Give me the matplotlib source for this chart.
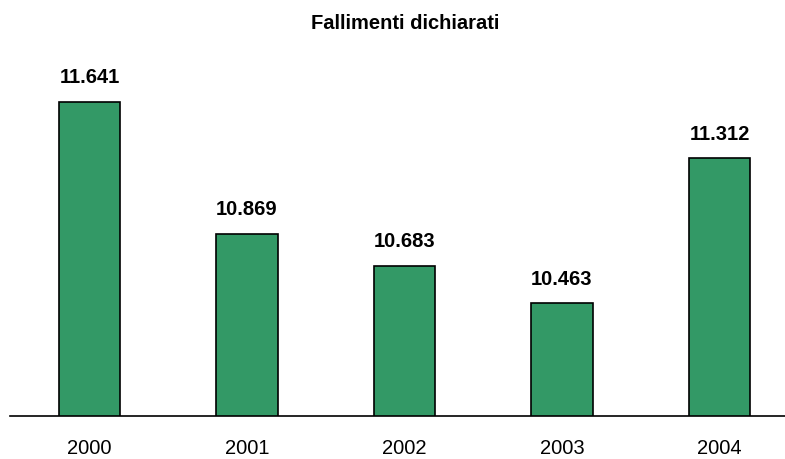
import matplotlib
matplotlib.use("Agg")
import matplotlib.pyplot as plt

# Fallimenti dichiarati per anno
years = ['2000', '2001', '2002', '2003', '2004']
fallimenti = [11641, 10869, 10683, 10463, 11312]
value_labels = ['11.641', '10.869', '10.683', '10.463', '11.312']

plt.rcParams['font.family'] = ['Liberation Sans', 'DejaVu Sans']

fig = plt.figure(figsize=(7.85, 4.59), dpi=100)
ax = fig.add_axes([10 / 785, 43 / 459, 775 / 785, 356 / 459])

x = range(len(years))
ax.bar(x, fallimenti, width=0.39, color='#339966', edgecolor='black', linewidth=1.2, zorder=2)

for xi, v, lab in zip(x, fallimenti, value_labels):
    ax.annotate(lab, (xi, v), xytext=(0, 13.5), textcoords='offset points',
                ha='center', va='baseline', fontsize=14.5, fontweight='bold')

ax.set_xlim(-0.505, 4.416)
ax.set_ylim(9805, 11887)

for side in ['top', 'right', 'left']:
    ax.spines[side].set_visible(False)
ax.spines['bottom'].set_linewidth(1.2)
ax.set_yticks([])
ax.set_xticks(list(x))
ax.set_xticklabels(years, fontsize=14.5)
ax.tick_params(axis='x', length=0, pad=16.5)

fig.text(405 / 785, 430 / 459, 'Fallimenti dichiarati', ha='center', va='baseline',
         fontsize=14.5, fontweight='bold')

fig.savefig('out.png', dpi=100)
